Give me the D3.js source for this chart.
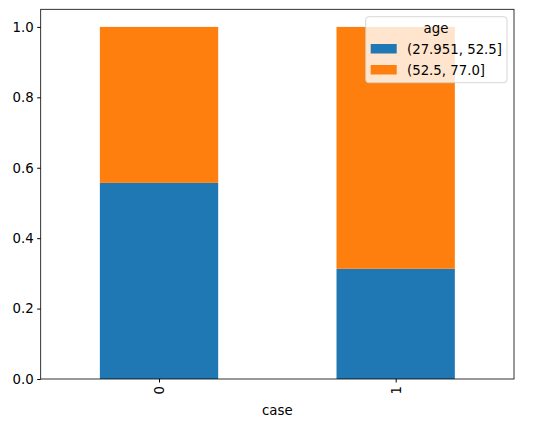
<!DOCTYPE html>
<html><head><meta charset="utf-8">
<script src="https://cdn.jsdelivr.net/npm/d3@7"></script>
<style>body{margin:0;background:#fff}text{font-family:"DejaVu Sans",sans-serif;fill:#000}</style>
</head><body><svg id="c" width="547" height="427"></svg>
<script>
const cases = ['0', '1'];
const seriesNames = ['(27.951, 52.5]', '(52.5, 77.0]'];
const young = [0.557, 0.313];
const old = [0.443, 0.687];
const colors = ['#1f77b4', '#ff7f0e'];
const yTicks = [0, 0.2, 0.4, 0.6, 0.8, 1.0];

const svg = d3.select('#c');
const L = 40.7, R = 514, T = 9.3, B = 379;
const x = d3.scaleLinear().domain([-0.5, 1.5]).range([L, R]);
const y = d3.scaleLinear().domain([0, 1.05]).range([B, T]);

const rows = cases.map((c, i) => ({case: c, a: young[i], b: old[i]}));
const stack = d3.stack().keys(['a', 'b'])(rows);

svg.selectAll('g.s').data(stack).enter().append('g').attr('fill', (d, i) => colors[i])
  .selectAll('rect').data(d => d).enter().append('rect')
  .attr('x', (d, i) => x(i - 0.25))
  .attr('width', x(0.25) - x(-0.25))
  .attr('y', d => y(d[1]))
  .attr('height', d => y(d[0]) - y(d[1]));

svg.append('g').attr('transform', `translate(${L},0)`)
  .call(d3.axisLeft(y).tickValues(yTicks).tickFormat(d3.format('.1f')).tickSize(3.5).tickPadding(3.5))
  .call(g => g.select('.domain').remove())
  .selectAll('text').style('font-size', '13.3px');

const xa = svg.append('g').attr('transform', `translate(0,${B})`)
  .call(d3.axisBottom(x).tickValues([0, 1]).tickFormat(i => cases[i]).tickSize(3.5))
  .call(g => g.select('.domain').remove());
xa.selectAll('text').style('font-size', '13.3px')
  .attr('transform', 'rotate(-90)').attr('text-anchor', 'end')
  .attr('x', -7).attr('y', 0).attr('dy', '0.35em');

svg.append('rect').attr('x', L).attr('y', T).attr('width', R - L).attr('height', B - T)
  .attr('fill', 'none').attr('stroke', '#000').attr('stroke-width', 0.8);

svg.append('text').attr('x', (L + R) / 2).attr('y', 415).attr('text-anchor', 'middle')
  .style('font-size', '13.3px').text('case');

const lg = svg.append('g');
lg.append('rect').attr('x', 365.7).attr('y', 16.7).attr('width', 141.3).attr('height', 66)
  .attr('rx', 3).attr('fill', '#fff').attr('fill-opacity', 0.8).attr('stroke', '#ccc').attr('stroke-width', 0.8);
lg.append('text').attr('x', 436).attr('y', 33).attr('text-anchor', 'middle').style('font-size', '13.3px').text('age');
seriesNames.forEach((n, i) => {
  lg.append('rect').attr('x', 370.7).attr('y', 44 + i * 21).attr('width', 26).attr('height', 9.5).attr('fill', colors[i]);
  lg.append('text').attr('x', 407).attr('y', 54 + i * 21).style('font-size', '13.3px').text(n);
});
</script></body></html>
